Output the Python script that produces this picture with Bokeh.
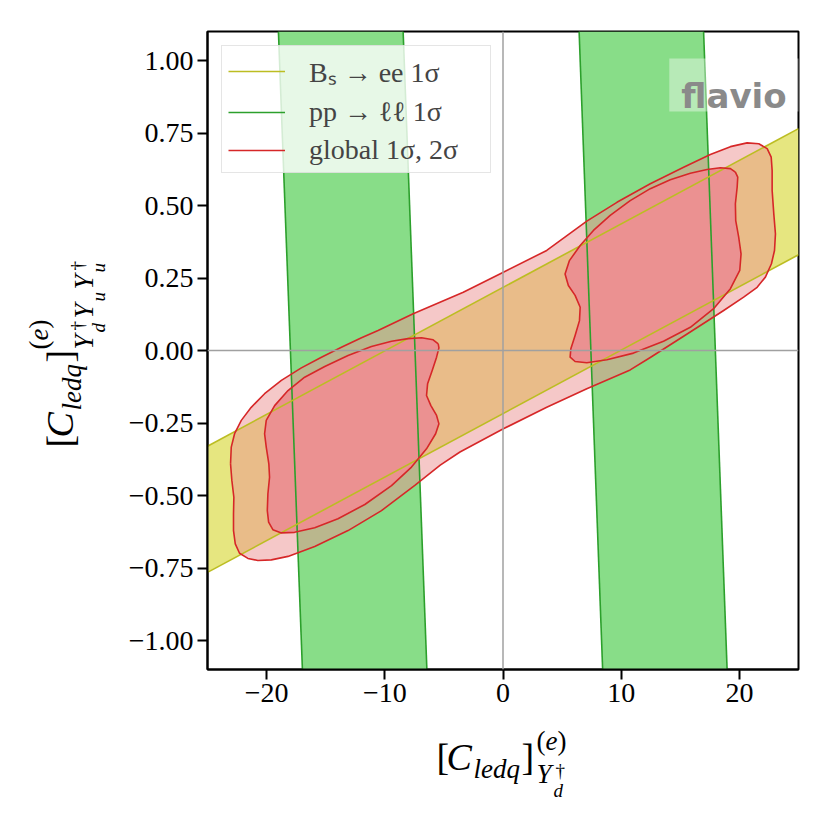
import math
from bokeh.plotting import figure
from bokeh.models import (Range1d, FixedTicker, Span, Label, BoxAnnotation,
                          Legend, LegendItem, ColumnDataSource)
from bokeh.layouts import row, column
from bokeh.core.properties import value
from bokeh.embed import file_html
from bokeh.resources import INLINE

# ---------------- data ----------------
X_RANGE = (-25.0, 25.0)
Y_RANGE = (-1.1, 1.1)
X_TICKS = [-20, -10, 0, 10, 20]
X_TICK_LABELS = ["−20", "−10", "0", "10", "20"]
Y_TICKS = [-1.0, -0.75, -0.5, -0.25, 0.0, 0.25, 0.5, 0.75, 1.0]
Y_TICK_LABELS = ["−1.00", "−0.75", "−0.50", "−0.25", "0.00", "0.25", "0.50", "0.75", "1.00"]

# pp -> ll 1 sigma bands (corners: top-left, top-right, bottom-right, bottom-left)
PP_Y = [1.1, 1.1, -1.1, -1.1]
PP_LEFT_X = [-19.0, -8.45, -6.44, -16.97]
PP_RIGHT_X = [6.44, 16.97, 18.96, 8.43]

# Bs -> ee 1 sigma band (corners: upper-left, upper-right, lower-right, lower-left)
BS_X = [-25.0, 25.0, 25.0, -25.0]
BS_Y = [-0.330, 0.765, 0.330, -0.765]

# global fit, 2 sigma contour
G2_X = [-23.05, -22.99, -22.71, -22.14, -21.30, -20.17, -18.75, -17.06, -15.36, -13.67,
        -11.97, -10.57, -7.60, -3.36, 0.03, 3.70, 7.09, 9.64, 12.46, 15.28,
        17.54, 19.24, 20.65, 21.64, 22.35, 22.69, 22.77, 22.77, 22.91, 23.05,
        22.97, 22.71, 22.20, 21.50, 20.36, 18.67, 15.28, 12.46, 10.76, 7.09,
        3.70, 0.03, -3.64, -5.31, -7.46, -10.28, -13.11, -15.93, -18.19, -19.60,
        -20.74, -21.58, -22.29, -22.65, -22.80, -22.80, -22.77, -22.94]
G2_Y = [-0.391, -0.333, -0.287, -0.241, -0.196, -0.149, -0.103, -0.060, -0.023, 0.011,
        0.044, 0.069, 0.127, 0.201, 0.270, 0.345, 0.446, 0.511, 0.575, 0.632,
        0.676, 0.703, 0.716, 0.713, 0.696, 0.667, 0.621, 0.552, 0.471, 0.402,
        0.345, 0.299, 0.253, 0.218, 0.184, 0.138, 0.049, -0.024, -0.067, -0.132,
        -0.196, -0.270, -0.350, -0.395, -0.465, -0.552, -0.621, -0.676, -0.710, -0.722,
        -0.724, -0.717, -0.699, -0.667, -0.621, -0.563, -0.506, -0.448]

# global fit, 1 sigma contours (two islands)
G1L_X = [-5.48, -5.91, -6.89, -8.03, -9.43, -11.13, -13.11, -15.08, -16.78, -18.19,
         -19.32, -20.03, -20.17, -20.03, -19.81, -19.75, -19.89, -19.94, -19.83, -19.47,
         -18.75, -17.63, -15.93, -13.96, -11.69, -9.43, -7.74, -6.47, -5.70, -5.42,
         -5.62, -6.10, -6.47, -6.38, -5.99, -5.62, -5.42]
G1L_Y = [0.023, 0.037, 0.044, 0.041, 0.032, 0.014, -0.017, -0.055, -0.092, -0.138,
         -0.190, -0.241, -0.287, -0.333, -0.391, -0.437, -0.494, -0.552, -0.592, -0.618,
         -0.629, -0.627, -0.611, -0.580, -0.531, -0.466, -0.402, -0.339, -0.287, -0.253,
         -0.224, -0.190, -0.155, -0.115, -0.069, -0.023, 0.009]
G1R_X = [19.66, 19.24, 18.39, 17.26, 15.85, 14.15, 12.46, 10.76, 9.07, 7.65,
         6.53, 5.62, 5.25, 5.53, 6.10, 6.53, 6.47, 6.10, 5.74, 5.68,
         6.10, 7.09, 8.79, 11.04, 13.58, 15.85, 17.82, 19.24, 20.03, 20.14,
         19.94, 19.69, 19.66, 19.81, 19.86]
G1R_Y = [0.615, 0.627, 0.630, 0.624, 0.611, 0.589, 0.558, 0.517, 0.466, 0.414,
         0.362, 0.310, 0.264, 0.224, 0.190, 0.149, 0.103, 0.052, 0.006, -0.023,
         -0.038, -0.042, -0.032, -0.009, 0.032, 0.080, 0.144, 0.213, 0.276, 0.333,
         0.391, 0.448, 0.506, 0.563, 0.598]

LEGEND_LABELS = ["Bₛ → ee 1σ", "pp → ℓℓ 1σ", "global 1σ, 2σ"]

# ---------------- styles / layout ----------------
GREEN_FILL, GREEN_LINE = "#88dd88", "#2ca02c"
YELLOW_FILL, YELLOW_LINE = "#e6e680", "#bcbd22"
RED_FILL, RED_LINE = "#eb9191", "#d62728"
SERIF = "Liberation Serif"

YL_W = 120               # width of the y-title strip
MAIN_W, MAIN_H = 694, 719
XL_H = 95                # height of the x-title strip
B_LEFT, B_RIGHT, B_TOP, B_BOTTOM = 87, 16, 31, 50
FRAME_L, FRAME_R = YL_W + B_LEFT, YL_W + MAIN_W - B_RIGHT     # page x of frame edges
FRAME_T, FRAME_B = B_TOP, MAIN_H - B_BOTTOM                    # page y of frame edges

p = figure(width=MAIN_W, height=MAIN_H, output_backend="svg", toolbar_location=None,
           x_range=Range1d(*X_RANGE), y_range=Range1d(*Y_RANGE),
           min_border_left=B_LEFT, min_border_right=B_RIGHT,
           min_border_top=B_TOP, min_border_bottom=B_BOTTOM)
p.title.visible = False
p.background_fill_color = "white"
p.border_fill_color = "white"
p.outline_line_color = "black"
p.outline_line_width = 2
p.xgrid.visible = False
p.ygrid.visible = False

# fills
p.patch(PP_LEFT_X, PP_Y, fill_color=GREEN_FILL, line_color=None)
p.patch(PP_RIGHT_X, PP_Y, fill_color=GREEN_FILL, line_color=None)
p.patch(BS_X, BS_Y, fill_color=YELLOW_FILL, line_color=None)
p.patch(G2_X, G2_Y, fill_color=RED_FILL, fill_alpha=0.5, line_color=None)
p.patch(G1L_X, G1L_Y, fill_color=RED_FILL, fill_alpha=1.0, line_color=None)
p.patch(G1R_X, G1R_Y, fill_color=RED_FILL, fill_alpha=1.0, line_color=None)

# edges
green_xs = [[PP_LEFT_X[0], PP_LEFT_X[3]], [PP_LEFT_X[1], PP_LEFT_X[2]],
            [PP_RIGHT_X[0], PP_RIGHT_X[3]], [PP_RIGHT_X[1], PP_RIGHT_X[2]]]
green_ys = [[PP_Y[0], PP_Y[3]], [PP_Y[1], PP_Y[2]]] * 2
yellow_xs = [[BS_X[0], BS_X[1]], [BS_X[3], BS_X[2]]]
yellow_ys = [[BS_Y[0], BS_Y[1]], [BS_Y[3], BS_Y[2]]]
red_xs = [G2_X + G2_X[:1], G1L_X + G1L_X[:1], G1R_X + G1R_X[:1]]
red_ys = [G2_Y + G2_Y[:1], G1L_Y + G1L_Y[:1], G1R_Y + G1R_Y[:1]]

r_green = p.multi_line(green_xs, green_ys, line_color=GREEN_LINE, line_width=1.6)
r_yellow = p.multi_line(yellow_xs, yellow_ys, line_color=YELLOW_LINE, line_width=1.6)
r_red = p.multi_line(red_xs, red_ys, line_color=RED_LINE, line_width=1.6,
                     line_join="round")

# zero lines
p.add_layout(Span(location=0, dimension="width", line_color="#a0a0a0", line_width=1.5))
p.add_layout(Span(location=0, dimension="height", line_color="#a0a0a0", line_width=1.5))

# axes
for ax, ticks, labels in ((p.xaxis, X_TICKS, X_TICK_LABELS), (p.yaxis, Y_TICKS, Y_TICK_LABELS)):
    ax.ticker = FixedTicker(ticks=ticks)
    ax.major_label_overrides = {t: l for t, l in zip(ticks, labels)}
    ax.major_tick_out = 10
    ax.major_tick_in = 0
    ax.major_tick_line_width = 2
    ax.minor_tick_line_color = None
    ax.axis_line_width = 2
    ax.major_label_text_font = SERIF
    ax.major_label_text_font_size = "28px"
    ax.major_label_text_color = "black"
    ax.major_label_standoff = 4

# watermark
p.add_layout(BoxAnnotation(left=14.07, right=26, bottom=0.824, top=1.007,
                           fill_color="white", fill_alpha=0.4, line_color=None))
p.add_layout(Label(x=15.08, y=0.876, text="flavio", text_font="DejaVu Sans",
                   text_font_style="bold", text_font_size="34px", text_color="#8a8a8a",
                   text_baseline="alphabetic", text_align="left"))

# legend
legend = Legend(items=[LegendItem(label=LEGEND_LABELS[0], renderers=[r_yellow]),
                       LegendItem(label=LEGEND_LABELS[1], renderers=[r_green]),
                       LegendItem(label=LEGEND_LABELS[2], renderers=[r_red])],
                location="top_left", margin=14, padding=6, spacing=6,
                glyph_width=57, glyph_height=30, label_height=30, label_width=175,
                label_standoff=24,
                label_text_font=SERIF, label_text_font_size="28px",
                background_fill_color="white", background_fill_alpha=0.8,
                border_line_color="#cccccc", border_line_width=1.5)
p.add_layout(legend)


# ---------------- axis titles (built from pieces in side strips) ----------------
def strip(w, h, xr, yr, borders):
    f = figure(width=w, height=h, output_backend="svg", toolbar_location=None,
               x_range=Range1d(*xr), y_range=Range1d(*yr),
               x_axis_type=None, y_axis_type=None,
               min_border_left=borders[0], min_border_right=borders[1],
               min_border_top=borders[2], min_border_bottom=borders[3])
    f.title.visible = False
    f.outline_line_color = None
    f.xgrid.visible = False
    f.ygrid.visible = False
    f.background_fill_color = "white"
    f.border_fill_color = "white"
    return f


def draw_pieces(f, pieces, angle):
    src = ColumnDataSource(dict(x=[q[0] for q in pieces], y=[q[1] for q in pieces],
                                text=[q[2] for q in pieces],
                                size=[f"{q[3]}px" for q in pieces],
                                style=[q[4] for q in pieces]))
    f.text(x="x", y="y", text="text", source=src, text_font=value(SERIF),
           text_font_size="size", text_font_style="style", text_color="black",
           angle=angle, text_align=value("left"), text_baseline=value("alphabetic"))


F, S, SS = 38, 27, 19
PAGE_H = MAIN_H + XL_H
LIFT = 0.35   # correction of the rendered baseline, as a fraction of the font size

# x title: [C_ledq]^(e)_{Y_d^dagger}; (page x of left edge, page y of baseline)
MB, SUP, SUB, SUBSUB, DAG = 770, 750, 783, 797, 777
x_pieces_px = [(436, MB, "[", F, "normal"), (446, MB, "C", F, "italic"),
               (473, MB + 8, "ledq", S, "italic"), (521, MB, "]", F, "normal"),
               (536, SUP, "(", S, "normal"), (545, SUP, "e", S, "italic"),
               (557, SUP, ")", S, "normal"), (536, SUB, "Y", S, "italic"),
               (553, SUBSUB, "d", SS, "italic"), (555, DAG, "†", SS, "normal")]
xt = strip(MAIN_W, XL_H, (FRAME_L, FRAME_R), (0, XL_H), (B_LEFT, B_RIGHT, 0, 0))
draw_pieces(xt, [(px, PAGE_H - (py - LIFT * s), t, s, st)
                 for px, py, t, s, st in x_pieces_px], 0.0)

# y title: [C_ledq]^(e)_{Y_d^dagger Y_u Y_u^dagger}; (page x of baseline, page y of start)
YB, YSUP, YSUB, YSUBSUB, YDAG = 73, 48, 93, 105, 84
y_pieces_px = [(YB, 447, "[", F, "normal"), (YB, 437, "C", F, "italic"),
               (YB + 8, 410, "ledq", S, "italic"), (YB, 362, "]", F, "normal"),
               (YSUP, 349, "(", S, "normal"), (YSUP, 340, "e", S, "italic"),
               (YSUP, 328, ")", S, "normal"), (YSUB, 349, "Y", S, "italic"),
               (YSUBSUB, 332, "d", SS, "italic"), (YDAG, 330, "†", SS, "normal"),
               (YSUB, 318, "Y", S, "italic"), (YSUBSUB, 301, "u", SS, "italic"),
               (YSUB, 289, "Y", S, "italic"), (YSUBSUB, 272, "u", SS, "italic"),
               (YDAG, 270, "†", SS, "normal")]
yt = strip(YL_W, MAIN_H, (0, YL_W), (MAIN_H - FRAME_B, MAIN_H - FRAME_T),
           (0, 0, B_TOP, B_BOTTOM))
draw_pieces(yt, [(px - LIFT * s, MAIN_H - py, t, s, st)
                 for px, py, t, s, st in y_pieces_px], math.pi / 2)

layout = row(yt, column(p, xt))
open("out.html", "w").write(file_html(layout, INLINE))
